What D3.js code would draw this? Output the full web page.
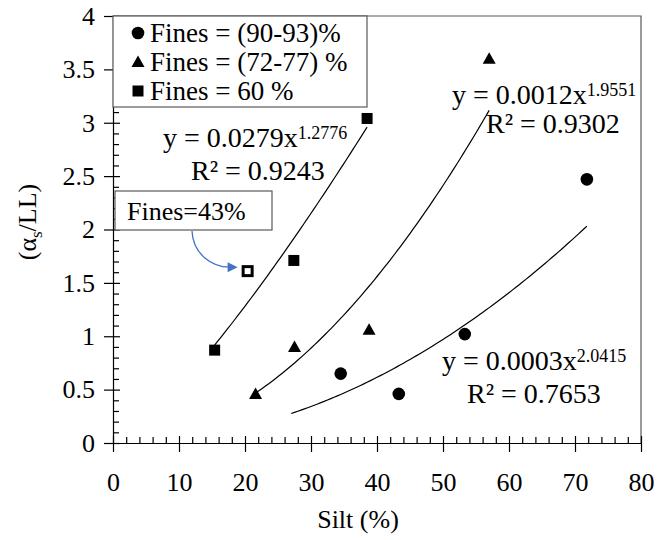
<!DOCTYPE html>
<html>
<head>
<meta charset="utf-8">
<script src="https://cdn.jsdelivr.net/npm/d3@7"></script>
<style>
  body { margin: 0; background: #fff; }
</style>
</head>
<body>
<svg id="chart" width="659" height="540"></svg>
<script>
// data
const xTicks = [0, 10, 20, 30, 40, 50, 60, 70, 80];
const yTicks = [0, 0.5, 1, 1.5, 2, 2.5, 3, 3.5, 4];

const circleSilt = [34.5, 43.3, 53.3, 71.8];     // Fines = (90-93)%
const circleRatio = [0.65, 0.46, 1.02, 2.47];
const triangleSilt = [21.6, 27.5, 38.8, 57.0];   // Fines = (72-77) %
const triangleRatio = [0.46, 0.90, 1.06, 3.60];
const squareSilt = [15.4, 27.4, 38.5];           // Fines = 60 %
const squareRatio = [0.87, 1.71, 3.04];
const openSilt = [20.4];                         // Fines = 43 %
const openRatio = [1.61];

const legendLabels = ['Fines = (90-93)%', 'Fines = (72-77) %', 'Fines = 60 %'];

// power trendlines y = a x^b (circle, triangle, square)
const trendCoef = [0.00033, 0.00115, 0.0279];
const trendPow = [2.0415, 1.9551, 1.2776];
const trendFrom = [27, 21.6, 15.4];
const trendTo = [71.8, 57.0, 38.5];
const trendCoefText = ['0.0003', '0.0012', '0.0279'];
const trendPowText = ['2.0415', '1.9551', '1.2776'];
const trendR2Text = ['0.7653', '0.9302', '0.9243'];

const FONT = "'Liberation Serif', 'Times New Roman'";
const svg = d3.select('#chart');
const x = d3.scaleLinear().domain([0, 80]).range([113, 641]);
const y = d3.scaleLinear().domain([0, 4]).range([443, 16]);

//plot frame (top and right)
svg.append('path')
  .attr('d', `M${x(0)},${y(4)}H${x(80)}V${y(0)}`)
  .attr('fill', 'none')
  .attr('stroke', '#595959')
  .attr('stroke-width', 1.2);

//minor ticks (inside)
const xMinor = d3.range(0, 81, 2).filter(v => v % 10 !== 0);
const yMinor = d3.range(0, 41, 1).map(v => v / 10).filter(v => Math.round(v * 10) % 5 !== 0);

function styleAxis(g) {
  g.selectAll('path.domain').attr('stroke', '#000').attr('stroke-width', 1.2);
  g.selectAll('.tick line').attr('stroke', '#000').attr('stroke-width', 1.2);
  g.selectAll('text').attr('fill', '#000');
}

svg.append('g').attr('transform', `translate(0,${y(0)})`)
  .call(d3.axisBottom(x).tickValues(xMinor).tickSize(-6).tickFormat(''))
  .call(g => g.select('.domain').remove())
  .call(styleAxis);
svg.append('g').attr('transform', `translate(0,${y(0)})`)
  .call(d3.axisBottom(x).tickValues(xTicks).tickSize(-7).tickFormat(''))
  .call(g => g.select('.domain').remove())
  .call(styleAxis);
svg.append('g').attr('transform', `translate(${x(0)},0)`)
  .call(d3.axisLeft(y).tickValues(yMinor).tickSize(-6).tickFormat(''))
  .call(g => g.select('.domain').remove())
  .call(styleAxis);
svg.append('g').attr('transform', `translate(${x(0)},0)`)
  .call(d3.axisLeft(y).tickValues(yTicks).tickSize(-7).tickFormat(''))
  .call(g => g.select('.domain').remove())
  .call(styleAxis);

//main axes with labels
svg.append('g').attr('transform', `translate(0,${y(0)})`)
  .call(d3.axisBottom(x).tickValues(xTicks).tickSizeInner(9).tickSizeOuter(0).tickPadding(21).tickFormat(d3.format('d')))
  .call(styleAxis)
  .call(g => g.selectAll('text').attr('font-size', 26));
svg.append('g').attr('transform', `translate(${x(0)},0)`)
  .call(d3.axisLeft(y).tickValues(yTicks).tickSizeInner(9).tickSizeOuter(0).tickPadding(9).tickFormat(d => String(d)))
  .call(styleAxis)
  .call(g => g.selectAll('text').attr('font-size', 26));

//axis titles
svg.append('text')
  .attr('x', 358).attr('y', 528)
  .attr('text-anchor', 'middle')
  .attr('font-size', 26)
  .text('Silt (%)');
let yTitle = svg.append('text')
  .attr('transform', 'translate(36,222) rotate(-90)')
  .attr('text-anchor', 'middle')
  .attr('font-size', 26);
yTitle.append('tspan').text('(\u03b1');
yTitle.append('tspan').attr('font-size', 17).attr('dy', 6).text('s');
yTitle.append('tspan').attr('dy', -6).text('/LL)');

//trendlines
const trendLine = d3.line().x(d => x(d[0])).y(d => y(d[1])).curve(d3.curveMonotoneX);
trendCoef.forEach((a, i) => {
  const pts = d3.range(trendFrom[i], trendTo[i], 0.5).concat([trendTo[i]])
    .map(s => [s, a * Math.pow(s, trendPow[i])]);
  svg.append('path')
    .attr('d', trendLine(pts))
    .attr('fill', 'none')
    .attr('stroke', '#000')
    .attr('stroke-width', 1.2);
});

//markers
const triPath = 'M0,-6.5L6.5,5L-6.5,5Z';
function drawCircles(g, xs, ys) {
  g.selectAll(null).data(xs).enter().append('circle')
    .attr('cx', d => x(d)).attr('cy', (d, i) => y(ys[i])).attr('r', 6.3)
    .attr('fill', '#000');
}
function drawTriangles(g, xs, ys) {
  g.selectAll(null).data(xs).enter().append('path')
    .attr('d', triPath)
    .attr('transform', (d, i) => `translate(${x(d)},${y(ys[i])})`)
    .attr('fill', '#000');
}
function drawSquares(g, xs, ys) {
  g.selectAll(null).data(xs).enter().append('rect')
    .attr('x', d => x(d) - 5.5).attr('y', (d, i) => y(ys[i]) - 5.5)
    .attr('width', 11).attr('height', 11)
    .attr('fill', '#000');
}
const marks = svg.append('g');
drawCircles(marks, circleSilt, circleRatio);
drawTriangles(marks, triangleSilt, triangleRatio);
drawSquares(marks, squareSilt, squareRatio);
marks.selectAll(null).data(openSilt).enter().append('rect')
  .attr('x', d => x(d) - 4.5).attr('y', (d, i) => y(openRatio[i]) - 4.5)
  .attr('width', 9).attr('height', 9)
  .attr('fill', '#fff').attr('stroke', '#000').attr('stroke-width', 3);

//trendline labels
const labelPos = [
  {x1: 442, y1: 370, x2: 467, y2: 403},
  {x1: 452, y1: 104, x2: 486, y2: 133},
  {x1: 163, y1: 147, x2: 191, y2: 180}
];
labelPos.forEach((p, i) => {
  let t = svg.append('text').attr('x', p.x1).attr('y', p.y1).attr('font-size', 28);
  t.append('tspan').text('y = ' + trendCoefText[i] + 'x');
  t.append('tspan').attr('font-size', 18).attr('dy', -8).text(trendPowText[i]);
  svg.append('text').attr('x', p.x2).attr('y', p.y2).attr('font-size', 28)
    .text('R\u00b2 = ' + trendR2Text[i]);
});

//legend
const legend = svg.append('g');
legend.append('rect')
  .attr('x', x(0)).attr('y', y(4))
  .attr('width', 254).attr('height', 91)
  .attr('fill', '#fff').attr('stroke', '#595959').attr('stroke-width', 1.2);
const rowY = [33, 62, 91];
legendLabels.forEach((lab, i) => {
  const row = legend.append('g').attr('transform', `translate(138,${rowY[i]})`);
  if (i === 0) row.append('circle').attr('r', 6.3).attr('fill', '#000');
  if (i === 1) row.append('path').attr('d', triPath).attr('fill', '#000');
  if (i === 2) row.append('rect').attr('x', -5.5).attr('y', -5.5).attr('width', 11).attr('height', 11).attr('fill', '#000');
  row.append('text').attr('x', 12).attr('y', 9).attr('font-size', 27).text(lab);
});

//annotation for the 43% point
svg.append('rect')
  .attr('x', 115).attr('y', 191)
  .attr('width', 157).attr('height', 39)
  .attr('fill', '#fff').attr('stroke', '#595959').attr('stroke-width', 1.2);
svg.append('text')
  .attr('x', 127).attr('y', 220)
  .attr('font-size', 26)
  .text('Fines=43%');
const ax = x(openSilt[0]) - 10, ay = y(openRatio[0]) - 4;
svg.append('path')
  .attr('d', `M192,231C193,254 212,${ay} ${ax - 8},${ay}`)
  .attr('fill', 'none').attr('stroke', '#4472C4').attr('stroke-width', 1.3);
svg.append('path')
  .attr('d', `M${ax},${ay}L${ax - 10},${ay - 5}L${ax - 10},${ay + 5}Z`)
  .attr('fill', '#4472C4');

//serif font on every text (inline style so the axis attributes don't win)
svg.selectAll('text').style('font-family', FONT);
</script>
</body>
</html>
